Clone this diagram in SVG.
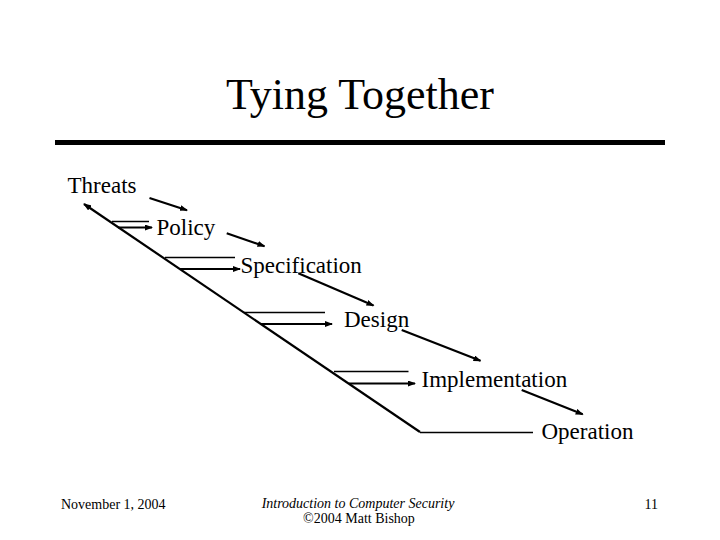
<svg xmlns="http://www.w3.org/2000/svg" width="720" height="540" viewBox="0 0 720 540">
  <defs>
    <marker id="ah" markerUnits="userSpaceOnUse" markerWidth="8" markerHeight="6" viewBox="0 0 8 6" refX="7" refY="3" orient="auto">
      <path d="M0,0 L8,3 L0,6 Z" fill="#000"/>
    </marker>
    <style>
      .lbl { font-family: "Liberation Serif", "Times New Roman", serif; font-size: 23px; fill: #000; }
      .foot { font-family: "Liberation Serif", "Times New Roman", serif; font-size: 14px; fill: #000; }
      .thick { stroke: #000; stroke-width: 2.2; fill: none; }
      .thin { stroke: #000; stroke-width: 1.3; fill: none; }
      .arr { marker-end: url(#ah); }
    </style>
  </defs>
  <rect width="720" height="540" fill="#fff"/>

  <g id="title">
    <text x="360" y="109" text-anchor="middle" font-family="'Liberation Serif', 'Times New Roman', serif" font-size="44">Tying Together</text>
    <line x1="55" y1="142.5" x2="665" y2="142.5" stroke="#000" stroke-width="5"/>
  </g>

  <g id="connectors">
    <line class="thick arr" x1="420" y1="432" x2="84" y2="204"/>
    <line class="thin" x1="420" y1="432.5" x2="533" y2="432.5"/>

    <line class="thin" x1="112" y1="221.5" x2="149" y2="221.5"/>
    <line class="thick arr" x1="118" y1="227.5" x2="152" y2="227.5"/>

    <line class="thin" x1="165" y1="257.5" x2="235" y2="257.5"/>
    <line class="thick arr" x1="180" y1="269" x2="240" y2="269"/>

    <line class="thin" x1="244" y1="312.5" x2="325" y2="312.5"/>
    <line class="thick arr" x1="261" y1="324" x2="332" y2="324"/>

    <line class="thin" x1="334" y1="371.5" x2="408.5" y2="371.5"/>
    <line class="thick arr" x1="349" y1="383.5" x2="415" y2="383.5"/>

    <line class="thick arr" x1="149.5" y1="198" x2="187" y2="210.2"/>
    <line class="thick arr" x1="226.7" y1="233.3" x2="264.5" y2="246.2"/>
    <line class="thick arr" x1="298.3" y1="273.3" x2="373.5" y2="305.5"/>
    <line class="thick arr" x1="401.7" y1="330" x2="480.5" y2="360.8"/>
    <line class="thick arr" x1="521.7" y1="390" x2="582.7" y2="414.3"/>
  </g>

  <g id="threats"><text class="lbl" x="67.5" y="193">Threats</text></g>
  <g id="policy"><text class="lbl" x="156.5" y="235">Policy</text></g>
  <g id="specification"><text class="lbl" x="240.5" y="272.5">Specification</text></g>
  <g id="design"><text class="lbl" x="344" y="327">Design</text></g>
  <g id="implementation"><text class="lbl" x="421.5" y="387">Implementation</text></g>
  <g id="operation"><text class="lbl" x="541.5" y="438.5">Operation</text></g>

  <g id="footer">
    <text class="foot" x="61" y="509">November 1, 2004</text>
    <text class="foot" x="358" y="508" text-anchor="middle" font-style="italic">Introduction to Computer Security</text>
    <text class="foot" x="359" y="523" text-anchor="middle">©2004 Matt Bishop</text>
    <text class="foot" x="658" y="509" text-anchor="end">11</text>
  </g>
</svg>
